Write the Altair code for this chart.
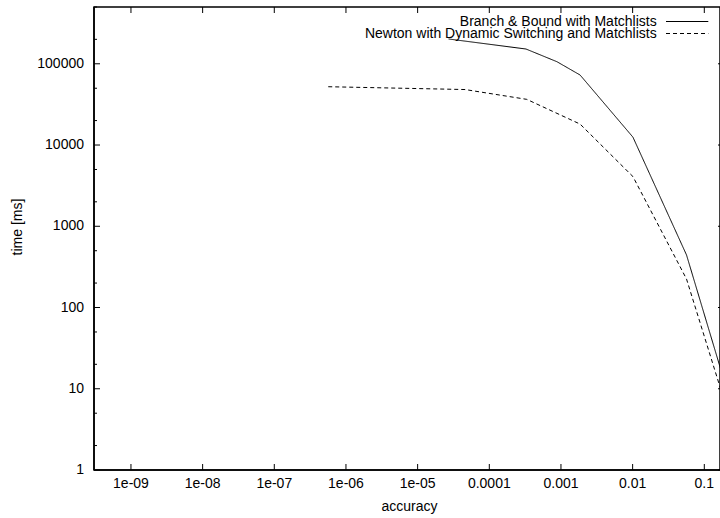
import altair as alt
import pandas as pd

# Series names as shown in the key
series_names = [
    "Branch & Bound with Matchlists",
    "Newton with Dynamic Switching and Matchlists",
]

# Branch & Bound with Matchlists: accuracy vs. time [ms]
bb_accuracy = [2.7e-5, 3.25e-4, 8.8e-4, 1.85e-3, 0.0101, 0.0565, 0.316]
bb_time = [202000, 152000, 106000, 72700, 12500, 443, 2.77]

# Newton with Dynamic Switching and Matchlists
newton_accuracy = [5.66e-7, 4.58e-5, 3.33e-4, 1.85e-3, 0.0101, 0.0565, 0.316]
newton_time = [52200, 48200, 36500, 18100, 4090, 224, 1.68]

# Axis ticks and their labels
x_ticks = [1e-9, 1e-8, 1e-7, 1e-6, 1e-5, 1e-4, 1e-3, 1e-2, 1e-1]
x_tick_labels = ["1e-09", "1e-08", "1e-07", "1e-06", "1e-05",
                 "0.0001", "0.001", "0.01", "0.1"]
y_major = [1, 10, 100, 1000, 10000, 100000]
y_tick_labels = ["1", "10", "100", "1000", "10000", "100000"]
y_minor = [2, 5, 20, 50, 200, 500, 2000, 5000, 20000, 50000, 200000, 500000]

x_title = "accuracy"
y_title = "time [ms]"

# Axis ranges
x_range = [3.05e-10, 0.1656]
y_range = [1, 500000]

df = pd.concat([
    pd.DataFrame({"series": series_names[0], "accuracy": bb_accuracy, "time": bb_time}),
    pd.DataFrame({"series": series_names[1], "accuracy": newton_accuracy, "time": newton_time}),
], ignore_index=True)

W, H = 626, 463
FONT = "Liberation Sans"
FS = 14
BORDER = 1.5

x_scale = alt.Scale(type="log", domain=x_range, nice=False)
y_scale = alt.Scale(type="log", domain=y_range, nice=False)

dash_scale = alt.Scale(domain=series_names, range=[[1, 0], [4, 3]])

# Data lines (the frame, ticks and labels are drawn as their own layers)
lines = alt.Chart(df).mark_line(clip=True, strokeWidth=1, color="black").encode(
    x=alt.X("accuracy:Q", scale=x_scale, axis=None),
    y=alt.Y("time:Q", scale=y_scale, axis=None),
    strokeDash=alt.StrokeDash("series:N", scale=dash_scale, legend=None),
    detail="series:N",
)


def tick_data(values, labels=None):
    if labels is None:
        return alt.Data(values=[{"tick": v} for v in values])
    return alt.Data(values=[{"tick": v, "label": s} for v, s in zip(values, labels)])


# Tick glyphs: a unit stroke from the anchor; symbol paths span [-1, 1],
# so a tick of length L px needs size (2 * L) ** 2.
def tick_mark(path, length):
    return dict(shape=path, size=(2 * length) ** 2, filled=False, color="black",
                strokeWidth=1, opacity=1)


def y_ticks(values, x_pos, path, length):
    return alt.Chart(tick_data(values)).mark_point(**tick_mark(path, length)).encode(
        y=alt.Y("tick:Q", scale=y_scale, axis=None), x=alt.value(x_pos))


def x_ticks_at(values, y_pos, path, length):
    return alt.Chart(tick_data(values)).mark_point(**tick_mark(path, length)).encode(
        x=alt.X("tick:Q", scale=x_scale, axis=None), y=alt.value(y_pos))


# Inward ticks on every border (gnuplot style)
tick_layers = [
    y_ticks(y_major, 0, "M0,0L1,0", 6),
    y_ticks(y_minor, 0, "M0,0L1,0", 3),
    y_ticks(y_major, W, "M0,0L-1,0", 2),
    x_ticks_at(x_ticks, H, "M0,0L0,-1", 6),
    x_ticks_at(x_ticks, 0, "M0,0L0,1", 6),
]

one_row = alt.Data(values=[{"k": 0}])


def border(**enc):
    return alt.Chart(one_row).mark_rule(color="black", strokeWidth=BORDER).encode(
        **{k: alt.value(v) for k, v in enc.items()})


# Left and bottom border lines (the view outline adds the top edge)
frame = [
    border(x=0, y=0, y2=H),
    border(x=0, x2=W, y=H),
]

text_style = dict(font=FONT, fontSize=FS, color="black")

# Tick labels
x_labels = alt.Chart(tick_data(x_ticks, x_tick_labels)).mark_text(
    align="center", baseline="top", **text_style).encode(
    x=alt.X("tick:Q", scale=x_scale, axis=None),
    y=alt.value(H + 7), text="label:N")

y_labels = alt.Chart(tick_data(y_major, y_tick_labels)).mark_text(
    align="right", baseline="middle", **text_style).encode(
    y=alt.Y("tick:Q", scale=y_scale, axis=None),
    x=alt.value(-10), text="label:N")

# Axis titles
x_title_layer = alt.Chart(alt.Data(values=[{"t": x_title}])).mark_text(
    align="center", baseline="top", **text_style).encode(
    x=alt.value(315.5), y=alt.value(H + 30), text="t:N")

y_title_layer = alt.Chart(alt.Data(values=[{"t": y_title}])).mark_text(
    align="center", baseline="middle", angle=270, **text_style).encode(
    x=alt.value(-76.5), y=alt.value(220), text="t:N")

# Key: right-aligned labels followed by line samples
key_layers = []
for i, name in enumerate(series_names):
    row_y = 14.5 + 12 * i
    key_df = pd.DataFrame({"series": [name]})
    key_layers.append(
        alt.Chart(key_df).mark_text(align="right", baseline="middle", **text_style).encode(
            x=alt.value(562.7), y=alt.value(row_y), text="series:N")
    )
    key_layers.append(
        alt.Chart(key_df).mark_rule(color="black", strokeWidth=1,
                                    strokeDash=[1, 0] if i == 0 else [4, 3]).encode(
            x=alt.value(572), x2=alt.value(614.3), y=alt.value(row_y))
    )

chart = alt.layer(
    lines, *tick_layers, *frame, x_labels, y_labels,
    x_title_layer, y_title_layer, *key_layers,
).properties(
    width=W, height=H,
    autosize=alt.AutoSizeParams(type="none"),
    padding={"left": 94, "top": 7, "right": 0, "bottom": 48},
    background="white",
).configure_view(
    stroke="black", strokeWidth=BORDER
)

chart.save("out.html", embed_options={"renderer": "svg", "actions": False})
